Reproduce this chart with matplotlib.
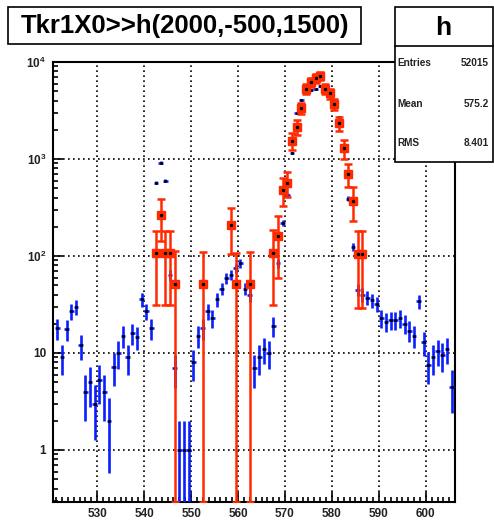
import numpy as np
import matplotlib.pyplot as plt
from matplotlib.patches import Rectangle
from matplotlib.lines import Line2D
from matplotlib.ticker import FixedLocator, LogLocator, MultipleLocator, NullFormatter

# --------------------------------------------------
# Data
# --------------------------------------------------

# blue histogram: bin centres 521.5 ... 605.5, one count per bin
blue_first_bin = 521.5
blue_counts = [
    18, 9, 17.6, 27, 30, 12, 4, 5, 3, 5.3,              # 521.5 - 530.5
    4, 2, 7.2, 10, 15, 9, 16, 14.6, 36, 27,             # 531.5 - 540.5
    18, 570, 916, 597, 63, 7, 1, 1, 1, 8,               # 541.5 - 550.5
    15, 18, 27, 23, 36, 46, 59, 64, 75, 84,             # 551.5 - 560.5
    46, 40, 7, 9, 11, 10, 19, 85, 219, 425,             # 561.5 - 570.5
    1160, 2960, 4100, 4800, 5200, 5300, 5600, 5000, 4500, 3600,  # 571.5 - 580.5
    2700, 1250, 391, 124, 45, 40, 37, 35, 32, 23,       # 581.5 - 590.5
    21, 22, 22, 23, 20, 17, 15, 34, 13, 7.5,            # 591.5 - 600.5
    9, 10.5, 9.5, 11, 4.5,                              # 601.5 - 605.5
]

# red histogram (weighted): only the filled bins
red_x = [542.5, 543.5, 544.5, 545.5, 546.5, 552.5, 558.5, 559.5, 562.5,
         567.5, 568.5, 569.5, 570.5, 571.5, 572.5, 573.5, 574.5, 575.5,
         576.5, 577.5, 578.5, 579.5, 580.5, 581.5, 582.5, 583.5, 584.5,
         585.5, 586.5]
red_val = [107, 265, 107, 107, 52, 52, 210, 52, 52,
           108, 159, 478, 570, 1540, 2150, 3330, 5330, 6200,
           6800, 7200, 5300, 4750, 3700, 2330, 1290, 700, 372,
           105, 105]
red_err = [76, 122, 76, 76, 60, 58, 105, 55, 58,
           77, 100, 153, 160, 300, 380, 450, 600, 650,
           700, 700, 600, 550, 500, 380, 280, 190, 145,
           76, 76]

x_ticks = [530, 540, 550, 560, 570, 580, 590, 600]
y_ticks = [1, 10, 100, 1000, 10000]
y_tick_labels = ["1", "10", r"$\mathbf{10^{2}}$", r"$\mathbf{10^{3}}$", r"$\mathbf{10^{4}}$"]

title_text = "Tkr1X0>>h(2000,-500,1500)"
stats_name = "h"
stats_rows = [("Entries", "52015"), ("Mean", "575.2"), ("RMS", "8.401")]

# --------------------------------------------------
# Style
# --------------------------------------------------

plt.rcParams["font.family"] = ["Liberation Sans", "DejaVu Sans"]
plt.rcParams["mathtext.fontset"] = "custom"
plt.rcParams["mathtext.rm"] = "Liberation Sans"
plt.rcParams["mathtext.bf"] = "Liberation Sans:bold"

BLUE = "#0a1eff"
RED = "#ff2a00"

XMIN, XMAX = 520.6, 606.2
YMIN, YMAX = 0.291, 10000

# --------------------------------------------------
# Figure
# --------------------------------------------------

fig = plt.figure(figsize=(4.94, 5.26), dpi=100)
ax = fig.add_axes([53 / 494, 24 / 526, 402 / 494, 440 / 526])

bx = blue_first_bin + np.arange(len(blue_counts))
by = np.array(blue_counts, dtype=float)
berr = np.sqrt(by)
b_lo = by - np.maximum(by - berr, YMIN * 0.5)

ax.errorbar(
    bx, by,
    xerr=0.5,
    yerr=[b_lo, berr],
    fmt="none",
    ecolor=BLUE,
    elinewidth=1.9,
    zorder=3
)
ax.plot(bx, by, "s", color="black", markersize=1.0, zorder=4)

rx = np.array(red_x)
ry = np.array(red_val, dtype=float)
rerr = np.array(red_err, dtype=float)
r_lo = ry - np.maximum(ry - rerr, YMIN)

ax.errorbar(
    rx, ry,
    xerr=0.5,
    yerr=[r_lo, rerr],
    fmt="s",
    color=RED,
    markersize=5.8,
    ecolor=RED,
    elinewidth=1.8,
    capsize=2.8,
    capthick=1.8,
    zorder=5
)
ax.plot(rx, ry, "s", color="black", markersize=1.3, zorder=6)

ax.set_yscale("log")
ax.set_xlim(XMIN, XMAX)
ax.set_ylim(YMIN, YMAX)

# --------------------------------------------------
# Axes, ticks and grid
# --------------------------------------------------

ax.xaxis.set_major_locator(FixedLocator(x_ticks))
ax.xaxis.set_minor_locator(MultipleLocator(1.25))
ax.set_xticklabels([str(t) for t in x_ticks])

ax.yaxis.set_major_locator(FixedLocator(y_ticks))
ax.yaxis.set_minor_locator(LogLocator(base=10, subs=np.arange(2, 10)))
ax.yaxis.set_minor_formatter(NullFormatter())
ax.set_yticklabels(y_tick_labels)

ax.tick_params(axis="both", which="major", direction="in", length=7,
               width=1.2, color="black", labelsize=8.5, top=False, right=False)
ax.tick_params(axis="both", which="minor", direction="in", length=3.6,
               width=1.2, color="black", top=False, right=False)
ax.tick_params(axis="x", which="major", pad=4)
ax.tick_params(axis="y", which="major", pad=5)

for lab in ax.get_xticklabels() + ax.get_yticklabels():
    lab.set_fontweight("bold")
    lab.set_color("#222222")

ax.grid(True, which="major", color="black", linestyle=(0, (1, 2)), linewidth=1.2)
ax.set_axisbelow(True)

for side in ["left", "bottom", "right", "top"]:
    ax.spines[side].set_linewidth(1.5)
    ax.spines[side].set_color("black")

# --------------------------------------------------
# Title box
# --------------------------------------------------

fig.add_artist(Rectangle(
    (8 / 494, 1 - 44 / 526), 353 / 494, 37 / 526,
    transform=fig.transFigure, facecolor="white", edgecolor="black",
    linewidth=1.2, zorder=10
))
fig.text(184.5 / 494, 1 - 26 / 526, title_text, ha="center", va="center",
         fontsize=18.5, fontweight="bold", zorder=11)

# --------------------------------------------------
# Stats box
# --------------------------------------------------

fig.add_artist(Rectangle(
    (395 / 494, 1 - 162 / 526), 98 / 494, 155 / 526,
    transform=fig.transFigure, facecolor="white", edgecolor="black",
    linewidth=1.2, zorder=10
))
fig.add_artist(Line2D(
    [395 / 494, 493 / 494], [1 - 46 / 526, 1 - 46 / 526],
    transform=fig.transFigure, color="black", linewidth=1.2, zorder=11
))
fig.text(443 / 494, 1 - 28 / 526, stats_name, ha="center", va="center",
         fontsize=19, fontweight="bold", zorder=11)

row_y = [63, 104, 143]
for (name, value), yy in zip(stats_rows, row_y):
    fig.text(397 / 494, 1 - yy / 526, name, ha="left", va="center",
             fontsize=7.2, fontweight="bold", color="#222222", zorder=11)
    fig.text(489 / 494, 1 - yy / 526, value, ha="right", va="center",
             fontsize=7.2, fontweight="bold", color="#222222", zorder=11)

fig.savefig("out.png", dpi=100)
